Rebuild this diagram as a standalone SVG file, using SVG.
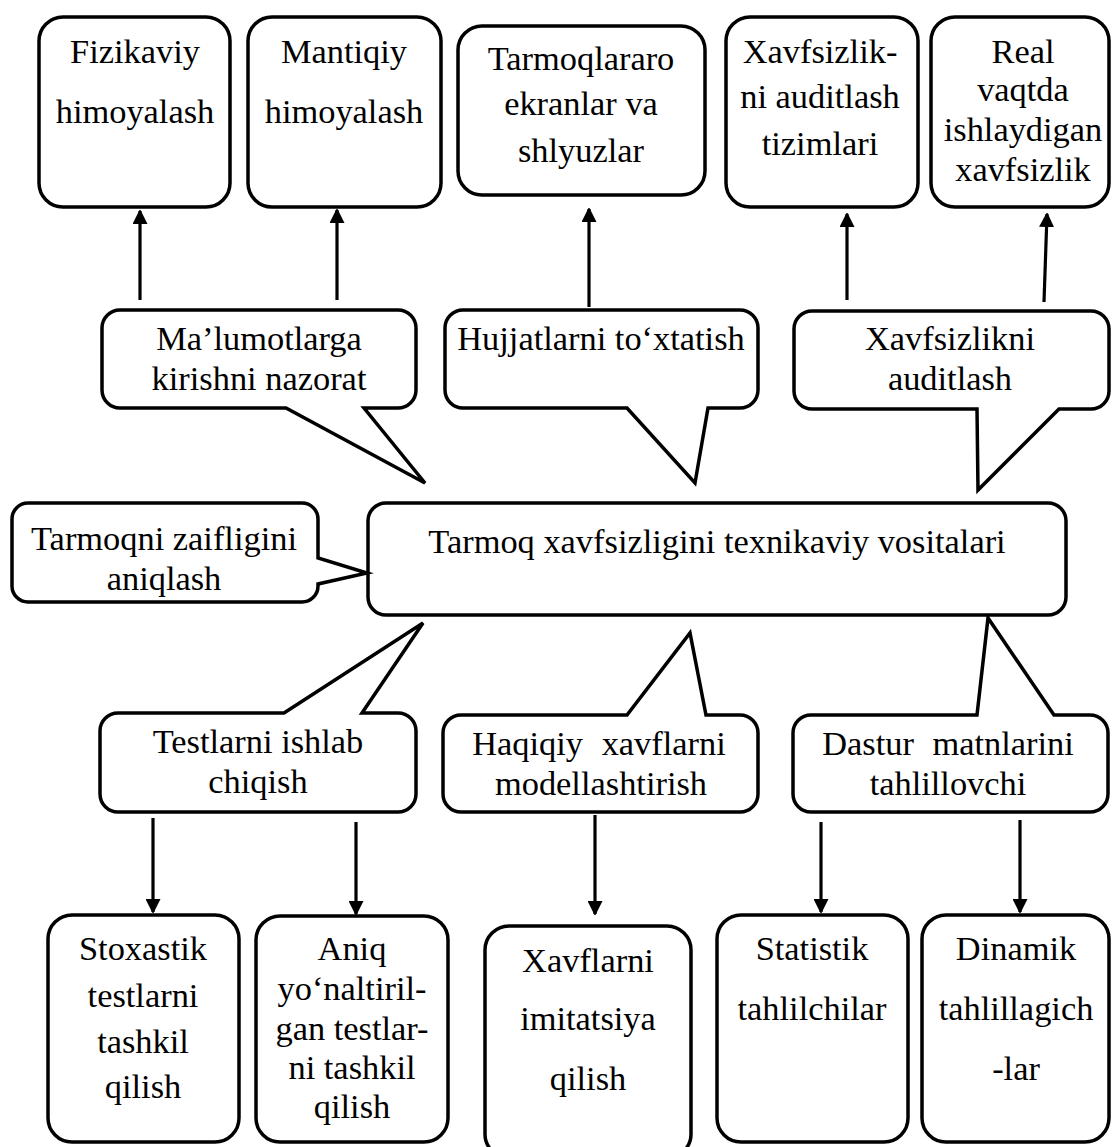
<svg xmlns="http://www.w3.org/2000/svg" width="1112" height="1147" viewBox="0 0 1112 1147">
  <style>
    .box { fill: #fff; stroke: #000; stroke-width: 3.5; stroke-linejoin: miter; }
    .callout { fill: #fff; stroke: #000; stroke-width: 3.5; stroke-linejoin: miter; }
    .arrow { fill: none; stroke: #000; stroke-width: 3.2; }
    text { font-family: "Liberation Serif", "Times New Roman", serif; font-size: 34.4px; fill: #000; text-anchor: middle; }
  </style>
  <defs>
    <marker id="head" viewBox="0 0 14 15" refX="13" refY="7.5" markerWidth="14" markerHeight="15" markerUnits="userSpaceOnUse" orient="auto">
      <path d="M0,0 L15,7.5 L0,15 Z" fill="#000"/>
    </marker>
  </defs>

  <rect width="1112" height="1147" fill="#fff"/>

  <!-- arrows between callouts and leaf boxes -->
  <g id="connectors">
    <line class="arrow" x1="140" y1="300" x2="140" y2="211" marker-end="url(#head)"/>
    <line class="arrow" x1="337" y1="300" x2="337" y2="210" marker-end="url(#head)"/>
    <line class="arrow" x1="589" y1="307" x2="589" y2="209" marker-end="url(#head)"/>
    <line class="arrow" x1="847" y1="300" x2="847" y2="214" marker-end="url(#head)"/>
    <line class="arrow" x1="1044" y1="302" x2="1047" y2="214" marker-end="url(#head)"/>

    <line class="arrow" x1="153" y1="818" x2="153" y2="912" marker-end="url(#head)"/>
    <line class="arrow" x1="356" y1="822" x2="356" y2="914" marker-end="url(#head)"/>
    <line class="arrow" x1="595" y1="815" x2="595" y2="914" marker-end="url(#head)"/>
    <line class="arrow" x1="821" y1="822" x2="821" y2="912" marker-end="url(#head)"/>
    <line class="arrow" x1="1020" y1="820" x2="1020" y2="912" marker-end="url(#head)"/>
  </g>

  <!-- top row -->
  <g id="fizikaviy">
    <rect class="box" x="39" y="17" width="191" height="190" rx="24"/>
    <text x="135" y="63">Fizikaviy</text>
    <text x="135" y="123">himoyalash</text>
  </g>
  <g id="mantiqiy">
    <rect class="box" x="248" y="17" width="193" height="190" rx="24"/>
    <text x="344" y="63">Mantiqiy</text>
    <text x="344" y="123">himoyalash</text>
  </g>
  <g id="tarmoqlararo">
    <rect class="box" x="458" y="26" width="247" height="169" rx="24"/>
    <text x="581" y="70">Tarmoqlararo</text>
    <text x="581" y="115">ekranlar va</text>
    <text x="581" y="162">shlyuzlar</text>
  </g>
  <g id="audit-tizimlari">
    <rect class="box" x="726" y="17" width="192" height="190" rx="24"/>
    <text x="820" y="63">Xavfsizlik-</text>
    <text x="820" y="108">ni auditlash</text>
    <text x="820" y="155">tizimlari</text>
  </g>
  <g id="real-vaqt">
    <rect class="box" x="931" y="17" width="178" height="190" rx="24"/>
    <text x="1023" y="63">Real</text>
    <text x="1023" y="101">vaqtda</text>
    <text x="1023" y="141">ishlaydigan</text>
    <text x="1023" y="181">xavfsizlik</text>
  </g>

  <!-- upper callouts -->
  <g id="kirish-nazorat">
    <path class="callout" d="M120,310 H398 A18,18 0 0 1 416,328 V390 A18,18 0 0 1 398,408 H364 L425,483 L286,408 H120 A18,18 0 0 1 102,390 V328 A18,18 0 0 1 120,310 Z"/>
    <text x="259" y="350">Ma’lumotlarga</text>
    <text x="259" y="390">kirishni nazorat</text>
  </g>
  <g id="hujjat-toxtatish">
    <path class="callout" d="M463,310 H740 A18,18 0 0 1 758,328 V390 A18,18 0 0 1 740,408 H708 L695,483 L627,408 H463 A18,18 0 0 1 445,390 V328 A18,18 0 0 1 463,310 Z"/>
    <text x="601" y="350">Hujjatlarni to‘xtatish</text>
  </g>
  <g id="xavfsizlik-audit">
    <path class="callout" d="M812,311 H1091 A18,18 0 0 1 1109,329 V391 A18,18 0 0 1 1091,409 H1059 L978,490 L977,409 H812 A18,18 0 0 1 794,391 V329 A18,18 0 0 1 812,311 Z"/>
    <text x="950" y="350">Xavfsizlikni</text>
    <text x="950" y="390">auditlash</text>
  </g>

  <!-- central node -->
  <g id="markaz">
    <rect class="box" x="368" y="503" width="698" height="112" rx="18"/>
    <text x="717" y="553">Tarmoq xavfsizligini texnikaviy vositalari</text>
  </g>
  <g id="zaiflik">
    <path class="callout" d="M28,503 H302 A16,16 0 0 1 318,519 V558 L367,573 L318,584 V586 A16,16 0 0 1 302,602 H28 A16,16 0 0 1 12,586 V519 A16,16 0 0 1 28,503 Z"/>
    <text x="164" y="550">Tarmoqni zaifligini</text>
    <text x="164" y="590">aniqlash</text>
  </g>

  <!-- lower callouts -->
  <g id="testlar">
    <path class="callout" d="M118,713 H284 L423,623 L362,713 H398 A18,18 0 0 1 416,731 V794 A18,18 0 0 1 398,812 H118 A18,18 0 0 1 100,794 V731 A18,18 0 0 1 118,713 Z"/>
    <text x="258" y="753">Testlarni ishlab</text>
    <text x="258" y="793">chiqish</text>
  </g>
  <g id="modellash">
    <path class="callout" d="M461,715 H627 L690,633 L706,715 H740 A18,18 0 0 1 758,733 V794 A18,18 0 0 1 740,812 H461 A18,18 0 0 1 443,794 V733 A18,18 0 0 1 461,715 Z"/>
    <text x="599" y="755" word-spacing="10">Haqiqiy xavflarni</text>
    <text x="601" y="795">modellashtirish</text>
  </g>
  <g id="dastur-tahlil">
    <path class="callout" d="M811,715 H977 L988,618 L1054,715 H1090 A18,18 0 0 1 1108,733 V794 A18,18 0 0 1 1090,812 H811 A18,18 0 0 1 793,794 V733 A18,18 0 0 1 811,715 Z"/>
    <text x="948" y="755" word-spacing="10">Dastur matnlarini</text>
    <text x="948" y="795">tahlillovchi</text>
  </g>

  <!-- bottom row -->
  <g id="stoxastik">
    <rect class="box" x="48" y="915" width="191" height="227" rx="24"/>
    <text x="143" y="960">Stoxastik</text>
    <text x="143" y="1007">testlarni</text>
    <text x="143" y="1053">tashkil</text>
    <text x="143" y="1098">qilish</text>
  </g>
  <g id="aniq-yonaltirilgan">
    <rect class="box" x="256" y="916" width="192" height="226" rx="24"/>
    <text x="352" y="960">Aniq</text>
    <text x="352" y="1000">yo‘naltiril-</text>
    <text x="352" y="1040">gan testlar-</text>
    <text x="352" y="1079">ni tashkil</text>
    <text x="352" y="1118">qilish</text>
  </g>
  <g id="imitatsiya">
    <rect class="box" x="485" y="926" width="206" height="232" rx="24"/>
    <text x="588" y="972">Xavflarni</text>
    <text x="588" y="1030">imitatsiya</text>
    <text x="588" y="1090">qilish</text>
  </g>
  <g id="statistik">
    <rect class="box" x="717" y="915" width="191" height="227" rx="24"/>
    <text x="812" y="960">Statistik</text>
    <text x="812" y="1020">tahlilchilar</text>
  </g>
  <g id="dinamik">
    <rect class="box" x="922" y="915" width="187" height="227" rx="24"/>
    <text x="1016" y="960">Dinamik</text>
    <text x="1016" y="1020">tahlillagich</text>
    <text x="1016" y="1080">-lar</text>
  </g>
</svg>
